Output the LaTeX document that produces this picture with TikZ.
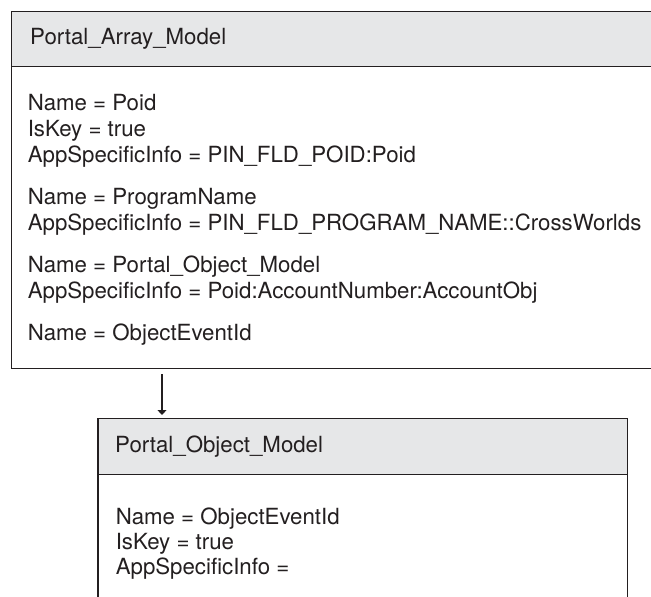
\documentclass[tikz,border=0pt]{standalone}
\usepackage{fontspec}
\setmainfont{TeX Gyre Heros}
\usetikzlibrary{arrows.meta}
\definecolor{hdrfill}{HTML}{E6E7E8}
\definecolor{ink}{HTML}{231F20}
\tikzset{
  frame/.style={draw=ink, line width=1.3pt},
  hdrbox/.style={frame, fill=hdrfill, inner sep=0pt, anchor=north west},
  bodybox/.style={frame, fill=white, inner sep=0pt, anchor=north west},
  txt/.style={anchor=base west, inner sep=0pt, text=ink, font=\fontsize{22.25}{26}\selectfont},
  link/.style={draw=ink, line width=1.1pt, -{Triangle[length=5pt,width=9pt]}}
}
\begin{document}
\begin{tikzpicture}[x=1pt,y=1pt]
\useasboundingbox (0,0) rectangle (651,-597);
% top class box
\node[bodybox, minimum width=660pt, minimum height=357pt] (topbox) at (10.7,-11) {};
\node[hdrbox, minimum width=660pt, minimum height=55pt] (tophdr) at (10.7,-11) {};
\node[txt] (toptitle) at (30,-44) {Portal\_Array\_Model};
\node[txt] (t1) at (27.6,-110) {Name = Poid};
\node[txt] (t2) at (27.6,-136) {IsKey = true};
\node[txt] (t3) at (27.6,-162) {AppSpecificInfo = PIN\_FLD\_POID:Poid};
\node[txt] (t4) at (27.6,-204) {Name = ProgramName};
\node[txt] (t5) at (27.6,-230) {AppSpecificInfo = PIN\_FLD\_PROGRAM\_NAME::CrossWorlds};
\node[txt] (t6) at (27.6,-272) {Name = Portal\_Object\_Model};
\node[txt] (t7) at (27.6,-298) {AppSpecificInfo = Poid:AccountNumber:AccountObj};
\node[txt] (t8) at (27.6,-340) {Name = ObjectEventId};
% bottom class box
\node[bodybox, minimum width=529.4pt, minimum height=200pt] (botbox) at (97.3,-418) {};
\node[hdrbox, minimum width=529.4pt, minimum height=56pt] (bothdr) at (97.3,-418) {};
\node[txt] (bottitle) at (115,-452.7) {Portal\_Object\_Model};
\node[txt] (b1) at (115.6,-524) {Name = ObjectEventId};
\node[txt] (b2) at (115.6,-549.5) {IsKey = true};
\node[txt] (b3) at (115.6,-574) {AppSpecificInfo =};
% connector
\coordinate (ax) at (162,0);
\draw[link] ([yshift=-5pt]topbox.south -| ax) -- ([yshift=3pt]bothdr.north -| ax);
\end{tikzpicture}
\end{document}
